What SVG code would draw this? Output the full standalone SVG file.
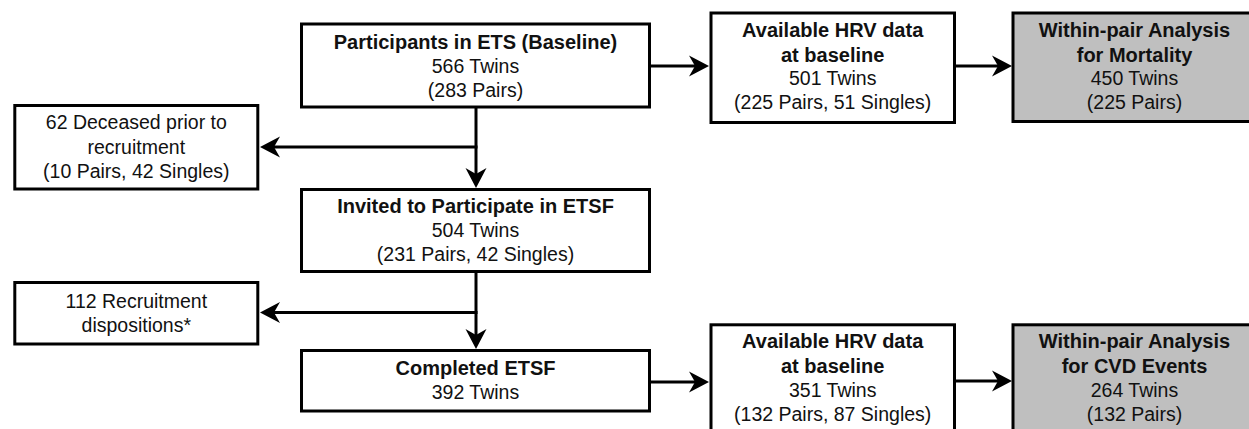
<svg xmlns="http://www.w3.org/2000/svg" width="1249" height="429" viewBox="0 0 1249 429">
  <defs>
    <style>
      .box { fill: #ffffff; stroke: #000000; stroke-width: 3; }
      .grey { fill: #bfbfbf; stroke: #000000; stroke-width: 3; }
      .t { font-family: "Liberation Sans", Arial, sans-serif; font-size: 19.5px; fill: #111111; text-anchor: middle; }
      .b { font-weight: bold; font-size: 20px; }
      .link { fill: none; stroke: #000000; stroke-width: 3; }
    </style>
    <marker id="arrow" markerUnits="userSpaceOnUse" viewBox="-11 -11 22 22" markerWidth="22" markerHeight="22" refX="0" refY="0" orient="auto">
      <path d="M10,0 L-10,-10.5 L-4,0 L-10,10.5 Z" fill="#000000"/>
    </marker>
  </defs>
  <rect width="1249" height="429" fill="#ffffff"/>

  <!-- connectors -->
  <g id="connectors">
    <line class="link" x1="651" y1="66" x2="699" y2="66" marker-end="url(#arrow)"/>
    <line class="link" x1="956" y1="66" x2="1002" y2="66" marker-end="url(#arrow)"/>
    <line class="link" x1="476" y1="108" x2="476" y2="178" marker-end="url(#arrow)"/>
    <line class="link" x1="477.5" y1="147" x2="270" y2="147" marker-end="url(#arrow)"/>
    <line class="link" x1="476" y1="272" x2="476" y2="339" marker-end="url(#arrow)"/>
    <line class="link" x1="477.5" y1="312.5" x2="270" y2="312.5" marker-end="url(#arrow)"/>
    <line class="link" x1="651" y1="382" x2="699" y2="382" marker-end="url(#arrow)"/>
    <line class="link" x1="956" y1="381" x2="1002" y2="381" marker-end="url(#arrow)"/>
  </g>

  <!-- baseline cohort -->
  <g id="participants">
    <rect class="box" x="301.5" y="24" width="348" height="83"/>
    <text class="t b" x="475.5" y="48.5">Participants in ETS (Baseline)</text>
    <text class="t" x="475.5" y="72.8">566 Twins</text>
    <text class="t" x="475.5" y="97">(283 Pairs)</text>
  </g>

  <g id="deceased">
    <rect class="box" x="14.8" y="105.5" width="243" height="83.5"/>
    <text class="t" x="136.3" y="129.3">62 Deceased prior to</text>
    <text class="t" x="136.3" y="153.5">recruitment</text>
    <text class="t" x="136.3" y="177.7">(10 Pairs, 42 Singles)</text>
  </g>

  <g id="invited">
    <rect class="box" x="301.5" y="189.5" width="348" height="82"/>
    <text class="t b" x="475.5" y="212.5">Invited to Participate in ETSF</text>
    <text class="t" x="475.5" y="236.7">504 Twins</text>
    <text class="t" x="475.5" y="261">(231 Pairs, 42 Singles)</text>
  </g>

  <g id="dispositions">
    <rect class="box" x="14.8" y="282.5" width="243" height="61.5"/>
    <text class="t" x="136.3" y="308">112 Recruitment</text>
    <text class="t" x="136.3" y="332">dispositions*</text>
  </g>

  <g id="completed">
    <rect class="box" x="301.5" y="350.5" width="348" height="60.5"/>
    <text class="t b" x="475.5" y="375">Completed ETSF</text>
    <text class="t" x="475.5" y="399">392 Twins</text>
  </g>

  <!-- HRV availability -->
  <g id="hrv-mortality">
    <rect class="box" x="711" y="13" width="243.5" height="109.5"/>
    <text class="t b" x="832.7" y="36.7">Available HRV data</text>
    <text class="t b" x="832.7" y="61.5">at baseline</text>
    <text class="t" x="832.7" y="85.3">501 Twins</text>
    <text class="t" x="832.7" y="109.3">(225 Pairs, 51 Singles)</text>
  </g>

  <g id="hrv-cvd">
    <rect class="box" x="711" y="324.8" width="243.5" height="150"/>
    <text class="t b" x="832.7" y="348.3">Available HRV data</text>
    <text class="t b" x="832.7" y="373">at baseline</text>
    <text class="t" x="832.7" y="396.7">351 Twins</text>
    <text class="t" x="832.7" y="420.7">(132 Pairs, 87 Singles)</text>
  </g>

  <!-- analyses -->
  <g id="analysis-mortality">
    <rect class="grey" x="1013" y="13" width="260" height="108.5"/>
    <text class="t b" x="1134.5" y="36.7">Within-pair Analysis</text>
    <text class="t b" x="1134.5" y="61.5">for Mortality</text>
    <text class="t" x="1134.5" y="85.3">450 Twins</text>
    <text class="t" x="1134.5" y="109.3">(225 Pairs)</text>
  </g>

  <g id="analysis-cvd">
    <rect class="grey" x="1013" y="324.8" width="260" height="150"/>
    <text class="t b" x="1134.5" y="348.3">Within-pair Analysis</text>
    <text class="t b" x="1134.5" y="373">for CVD Events</text>
    <text class="t" x="1134.5" y="396.7">264 Twins</text>
    <text class="t" x="1134.5" y="420.7">(132 Pairs)</text>
  </g>
</svg>
